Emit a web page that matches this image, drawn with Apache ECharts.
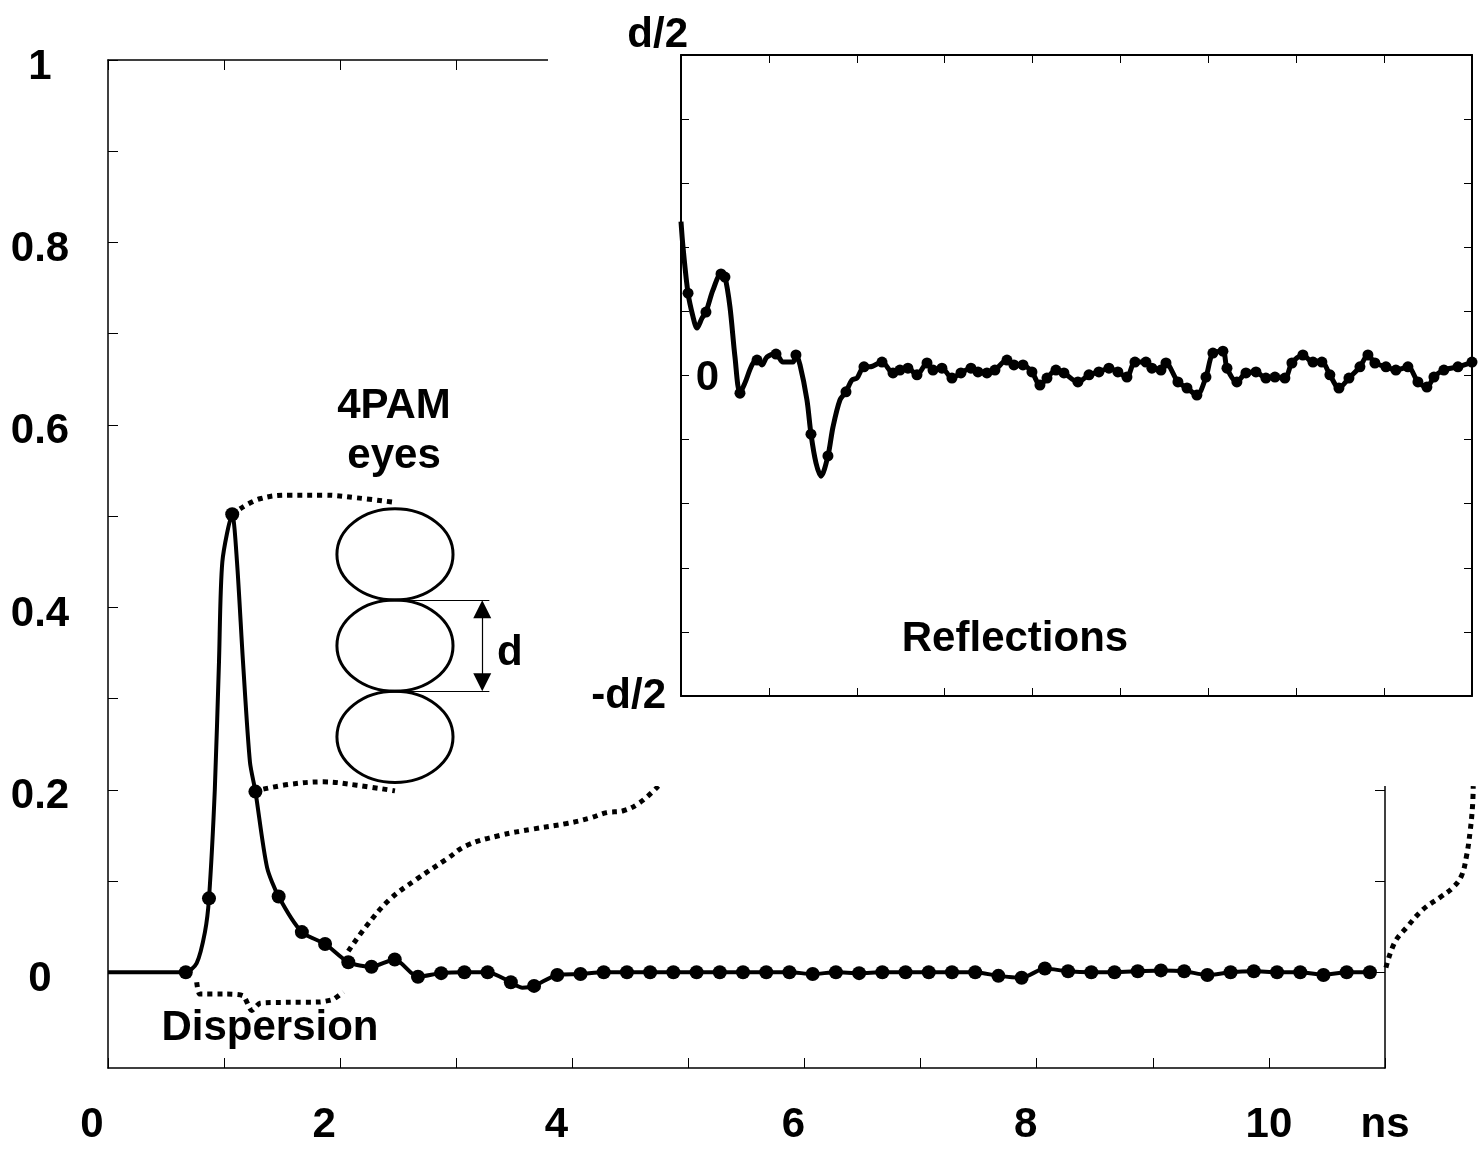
<!DOCTYPE html>
<html>
<head>
<meta charset="utf-8">
<title>4PAM pulse response</title>
<script src="https://cdn.jsdelivr.net/npm/echarts@6.0.0/dist/echarts.min.js"></script>
<style>
  html, body { margin: 0; padding: 0; background: #fff; }
  #chart { width: 1484px; height: 1151px; }
</style>
</head>
<body>
<div id="chart"></div>
<script>
// main plot: sampled pulse response (ns vs normalised amplitude)
const pulseT = [0.67, 0.87, 1.07, 1.27, 1.47, 1.67, 1.87, 2.07, 2.27, 2.47, 2.67, 2.87, 3.07, 3.27,
  3.47, 3.67, 3.87, 4.07, 4.27, 4.47, 4.67, 4.87, 5.07, 5.27, 5.47, 5.67, 5.87, 6.07, 6.27, 6.47,
  6.67, 6.87, 7.07, 7.27, 7.47, 7.67, 7.87, 8.07, 8.27, 8.47, 8.67, 8.87, 9.07, 9.27, 9.47, 9.67,
  9.87, 10.07, 10.27, 10.47, 10.67, 10.87];
const pulseV = [0, 0.081, 0.502, 0.198, 0.083, 0.044, 0.031, 0.011, 0.006, 0.014, -0.005, -0.001, 0, 0,
  -0.011, -0.015, -0.003, -0.002, 0, 0, 0, 0, 0, 0, 0, 0, 0, -0.002, 0, -0.001,
  0, 0, 0, 0, 0, -0.004, -0.006, 0.004, 0.001, 0, 0, 0.001, 0.002, 0.001, -0.003, 0,
  0.001, 0, 0, -0.003, 0, 0];
// points of the trace between the samples (no dot drawn)
const traceT = [0, 0.764, 0.835, 0.92, 0.956, 0.985, 1.111, 1.163, 1.223, 1.37, 3.57];
const traceV = [0, 0.01, 0.044, 0.2, 0.34, 0.45, 0.45, 0.34, 0.23, 0.115, -0.017];

// dotted annotation curves
const topLinkT = [1.137, 1.309, 1.568, 1.852, 2.145, 2.472];
const topLinkV = [0.508, 0.519, 0.523, 0.523, 0.52, 0.515];
const botLinkT = [1.338, 1.568, 1.854, 2.142, 2.472];
const botLinkV = [0.2007, 0.206, 0.2087, 0.205, 0.1988];
const reflLinkT = [2.07, 2.228, 2.429, 2.659, 2.917, 3.09, 3.376, 3.663, 3.951, 4.152, 4.295, 4.438, 4.582, 4.74];
const reflLinkV = [0.023, 0.051, 0.08, 0.102, 0.124, 0.139, 0.15, 0.157, 0.163, 0.169, 0.175, 0.177, 0.186, 0.204];
const dispT = [0.764, 0.792, 1.022, 1.165, 1.238, 1.309, 1.539, 1.826, 1.941, 2.027];
const dispV = [-0.011, -0.024, -0.024, -0.026, -0.042, -0.034, -0.033, -0.0326, -0.0296, -0.0216];
const tailT = [11.008, 11.085, 11.186, 11.329, 11.473, 11.587, 11.66, 11.703, 11.732, 11.754, 11.76];
const tailV = [0.005, 0.033, 0.049, 0.069, 0.082, 0.093, 0.106, 0.128, 0.153, 0.182, 0.204];

// 4PAM eyes (data units of the main plot)
const eyeX = 2.472;
const eyeY = [0.458, 0.358, 0.258];
const eyeHalfW = 0.5;
const eyeHalfH = 0.05;
const dLevels = [0.408, 0.308];
const dLineEnd = 3.285;
const dArrowX = 3.224;
const dArrowEnds = [0.398, 0.318];

const notes = ['4PAM', 'eyes', 'Dispersion', 'd'];
const notesX = [2.464, 2.464, 1.395, 3.462];
const notesY = [0.62, 0.565, -0.0614, 0.35];

// inset: reflections, amplitude in units of d/2
const insetT = [0, 0.023, 0.08, 0.137, 0.182, 0.239, 0.284, 0.364, 0.455, 0.5,
  0.557, 0.614, 0.671, 0.728, 0.808, 0.865, 0.922, 0.978, 1.081, 1.16,
  1.274, 1.308, 1.354, 1.433, 1.479, 1.536, 1.593, 1.672, 1.729, 1.809,
  1.877, 1.945, 2.002, 2.082, 2.15, 2.287, 2.412, 2.491, 2.582, 2.685,
  2.799, 2.867, 2.969, 3.083, 3.185, 3.299, 3.379, 3.481, 3.572, 3.709,
  3.788, 3.891, 3.993, 4.084, 4.164, 4.266, 4.357, 4.516, 4.642, 4.755,
  4.869, 4.971, 5.074, 5.165, 5.29, 5.358, 5.461, 5.518, 5.654, 5.757,
  5.87, 5.973, 6.052, 6.166, 6.212, 6.325, 6.428, 6.542, 6.655, 6.758,
  6.871, 6.951, 7.076, 7.19, 7.292, 7.383, 7.486, 7.6, 7.725, 7.816,
  7.895, 8.021, 8.134, 8.271, 8.385, 8.487, 8.567, 8.68, 8.84, 9.0];
const insetV = [0.48, 0.40, 0.257, 0.183, 0.148, 0.179, 0.198, 0.267, 0.317, 0.307,
  0.214, 0.058, -0.055, -0.023, 0.033, 0.048, 0.033, 0.058, 0.067, 0.042,
  0.042, 0.064, 0.033, -0.076, -0.183, -0.273, -0.314, -0.251, -0.161, -0.076,
  -0.051, -0.014, -0.008, 0.027, 0.027, 0.042, 0.008, 0.017, 0.023, 0.002,
  0.039, 0.017, 0.023, -0.008, 0.008, 0.023, 0.011, 0.008, 0.017, 0.048,
  0.033, 0.033, 0.011, -0.03, -0.008, 0.017, 0.008, -0.02, 0.002, 0.011,
  0.023, 0.011, -0.005, 0.042, 0.042, 0.023, 0.017, 0.039, -0.02, -0.039,
  -0.061, -0.005, 0.07, 0.076, 0.023, -0.02, 0.008, 0.011, -0.008, -0.005,
  -0.008, 0.039, 0.064, 0.042, 0.042, 0.002, -0.039, -0.008, 0.027, 0.064,
  0.039, 0.027, 0.017, 0.027, -0.02, -0.036, -0.005, 0.017, 0.027, 0.042];
const insetDots = [2, 6, 8, 9, 12, 15, 18, 21, 24, 27, 30, 33, 35];
const insetDotsFrom = 36; // every point after this one carries a dot

// tick labels
const xLabelValues = [0, 2, 4, 6, 8, 10, 11];
const xLabelText = ['0', '2', '4', '6', '8', '10', 'ns'];
const yLabelValues = [0, 0.2, 0.4, 0.6, 0.8, 1];
const yLabelText = ['0', '0.2', '0.4', '0.6', '0.8', '1'];
const yTickValues = [0, 0.1, 0.2, 0.3, 0.4, 0.5, 0.6, 0.7, 0.8, 0.9, 1];
const insetYLabelValues = [-1, 0, 1];
const insetYLabelText = ['-d/2', '0', 'd/2'];

const FONT = '"Liberation Sans", Arial, Helvetica, sans-serif';
const BOLD = { fontFamily: FONT, fontWeight: 'bold', fontSize: 42, color: '#000' };
const DOTTED = { color: '#000', width: 5, type: [5, 5], cap: 'butt' };

const mainData = pulseT.map((t, i) => ({ value: [t, pulseV[i]], symbol: 'circle' }))
  .concat(traceT.map((t, i) => ({ value: [t, traceV[i]], symbol: 'none' })))
  .sort((a, b) => a.value[0] - b.value[0]);

const insetData = insetT.map((t, i) => ({
  value: [t, insetV[i]],
  symbol: (i >= insetDotsFrom || insetDots.includes(i)) ? 'circle' : 'none'
}));

function dotted(name, xs, ys, smooth) {
  return {
    name, type: 'line', xAxisIndex: 0, yAxisIndex: 0,
    data: xs.map((x, i) => [x, ys[i]]),
    smooth, symbol: 'none', clip: false, silent: true, z: 3,
    lineStyle: DOTTED
  };
}

function frameAxis(extra) {
  return Object.assign({
    type: 'value',
    axisLine: { show: true, onZero: false, lineStyle: { color: '#000', width: 1.5 } },
    axisTick: { show: true, inside: true, length: 10, lineStyle: { color: '#000', width: 1 } },
    axisLabel: { show: false },
    splitLine: { show: false }
  }, extra);
}

function insetFrame(extra) {
  return frameAxis(Object.assign({
    gridIndex: 1, z: 60,
    axisLine: { show: true, onZero: false, lineStyle: { color: '#000', width: 2 } },
    axisTick: { show: true, inside: true, length: 8, lineStyle: { color: '#000', width: 1 } }
  }, extra));
}

const chart = echarts.init(document.getElementById('chart'), null, { renderer: 'canvas' });

chart.setOption({
  animation: false,
  backgroundColor: '#fff',
  grid: [
    { left: 108, right: 99, top: 60, bottom: 83, outerBoundsMode: 'none' },
    { left: 681, right: 12, top: 55, bottom: 455, outerBoundsMode: 'none' }
  ],
  xAxis: [
    frameAxis({
      gridIndex: 0, position: 'bottom', min: 0, max: 11, interval: 1,
      axisLabel: {
        show: true, margin: 36, customValues: xLabelValues,
        formatter: v => {
          const i = xLabelValues.indexOf(v);
          const tag = v <= 4 ? 'a' : (v <= 8 ? 'b' : 'c');
          return i < 0 ? '' : '{' + tag + '|' + xLabelText[i] + '}';
        },
        rich: {
          a: Object.assign({ padding: [0, 32, 0, 0] }, BOLD),
          b: Object.assign({ padding: [0, 22, 0, 0] }, BOLD),
          c: Object.assign({}, BOLD)
        }
      }
    }),
    frameAxis({ gridIndex: 0, position: 'top', min: 0, max: 11, interval: 1 }),
    insetFrame({ position: 'bottom', min: 0, max: 9, interval: 1 }),
    insetFrame({ position: 'top', min: 0, max: 9, interval: 1 })
  ],
  yAxis: [
    frameAxis({
      gridIndex: 0, position: 'left', min: -0.105, max: 1,
      axisTick: { show: true, inside: true, length: 10, customValues: yTickValues, lineStyle: { color: '#000', width: 1 } },
      axisLabel: {
        show: true, align: 'center', margin: 68, customValues: yLabelValues,
        formatter: v => {
          const i = yLabelValues.findIndex(u => Math.abs(u - v) < 1e-9);
          return i < 0 ? '' : '{y|' + yLabelText[i] + '}';
        },
        rich: { y: Object.assign({ padding: [14, 0, 0, 0] }, BOLD) }
      }
    }),
    frameAxis({
      gridIndex: 0, position: 'right', min: -0.105, max: 1,
      axisTick: { show: true, inside: true, length: 10, customValues: yTickValues, lineStyle: { color: '#000', width: 1 } }
    }),
    insetFrame({
      position: 'left', min: -1, max: 1, interval: 0.2,
      axisLabel: {
        show: true, align: 'right', margin: -38, customValues: insetYLabelValues,
        formatter: v => {
          const i = insetYLabelValues.findIndex(u => Math.abs(u - v) < 1e-9);
          const tag = ['bot', 'mid', 'top'][i];
          return i < 0 ? '' : '{' + tag + '|' + insetYLabelText[i] + '}';
        },
        rich: {
          top: Object.assign({ padding: [0, 31, 40, 0] }, BOLD),
          mid: Object.assign({ padding: [5, 0, 0, 0] }, BOLD),
          bot: Object.assign({ padding: [0, 53, 0, 0] }, BOLD)
        }
      }
    }),
    insetFrame({ position: 'right', min: -1, max: 1, interval: 0.2 })
  ],
  // white patch that hides the main frame behind the inset
  graphic: [{
    type: 'rect', z: 50, silent: true,
    shape: { x: 548, y: 0, width: 936, height: 786 },
    style: { fill: '#fff' }
  }],
  series: [
    {
      name: 'pulse', type: 'line', xAxisIndex: 0, yAxisIndex: 0,
      data: mainData, smooth: 0.25,
      symbolSize: 14, showSymbol: true, silent: true, z: 5,
      itemStyle: { color: '#000', opacity: 1 },
      lineStyle: { color: '#000', width: 4 }
    },
    dotted('topLink', topLinkT, topLinkV, 0.4),
    dotted('botLink', botLinkT, botLinkV, 0.4),
    dotted('reflLink', reflLinkT, reflLinkV, 0.4),
    dotted('dispersion', dispT, dispV, 0.2),
    {
      // the tail runs past the right end of the time axis
      name: 'tail', type: 'custom', xAxisIndex: 0, yAxisIndex: 0,
      clip: false, silent: true, z: 3,
      data: [[tailT[0], tailV[0]]],
      renderItem: (params, api) => ({
        type: 'polyline',
        shape: { points: tailT.map((t, i) => api.coord([t, tailV[i]])), smooth: 0.4 },
        style: { fill: 'none', stroke: '#000', lineWidth: DOTTED.width, lineDash: DOTTED.type }
      })
    },
    {
      name: 'eyes', type: 'custom', xAxisIndex: 0, yAxisIndex: 0,
      clip: false, silent: true, z: 3,
      data: eyeY.map(y => [eyeX, y, eyeHalfW, eyeHalfH]),
      renderItem: (params, api) => {
        const c = api.coord([api.value(0), api.value(1)]);
        const s = api.size([api.value(2), api.value(3)]);
        return {
          type: 'ellipse',
          shape: { cx: c[0], cy: c[1], rx: s[0], ry: s[1] },
          style: { fill: 'none', stroke: '#000', lineWidth: 3 }
        };
      },
      markLine: {
        silent: true, symbol: ['none', 'none'], animation: false,
        label: { show: false },
        lineStyle: { color: '#000', width: 1.2, type: 'solid' },
        data: [
          [{ coord: [eyeX, dLevels[0]] }, { coord: [dLineEnd, dLevels[0]] }],
          [{ coord: [eyeX, dLevels[1]] }, { coord: [dLineEnd, dLevels[1]] }],
          [
            { coord: [dArrowX, dArrowEnds[0]], symbol: 'triangle', symbolSize: [18, 18] },
            { coord: [dArrowX, dArrowEnds[1]], symbol: 'triangle', symbolSize: [18, 18] }
          ]
        ]
      }
    },
    {
      name: 'notes', type: 'scatter', xAxisIndex: 0, yAxisIndex: 0,
      silent: true, z: 4, symbolSize: 0,
      itemStyle: { color: '#000', opacity: 1 },
      data: notes.map((n, i) => ({ name: n, value: [notesX[i], notesY[i]] })),
      label: Object.assign({ show: true, position: 'inside', formatter: '{b}', opacity: 1 }, BOLD)
    },
    {
      name: 'reflections', type: 'line', xAxisIndex: 2, yAxisIndex: 2,
      data: insetData, smooth: 0.3, showSymbol: true, symbolSize: 11,
      silent: true, z: 60,
      itemStyle: { color: '#000', opacity: 1 },
      lineStyle: { color: '#000', width: 5 }
    },
    {
      name: 'insetNote', type: 'scatter', xAxisIndex: 2, yAxisIndex: 2,
      silent: true, z: 61, symbolSize: 0,
      itemStyle: { color: '#000', opacity: 1 },
      data: [{ name: 'Reflections', value: [3.8, -0.825] }],
      label: Object.assign({ show: true, position: 'inside', formatter: '{b}', opacity: 1 }, BOLD)
    }
  ]
});
</script>
</body>
</html>
